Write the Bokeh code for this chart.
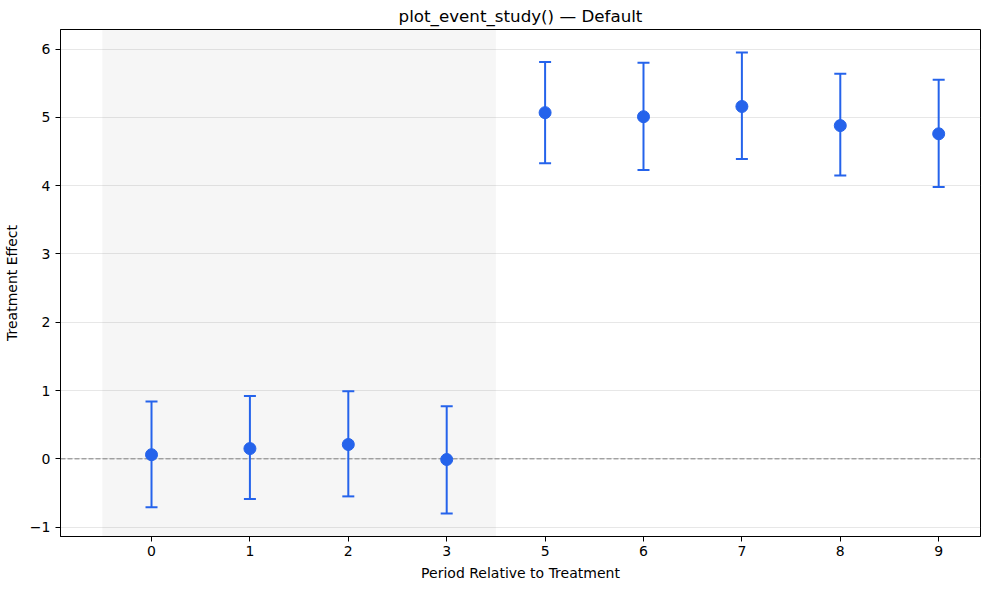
from bokeh.plotting import figure
from bokeh.models import (ColumnDataSource, Range1d, FixedTicker, Whisker, TeeHead,
                          BoxAnnotation, Span)
from bokeh.embed import file_html
from bokeh.resources import INLINE

# ---- data ----
periods = [0, 1, 2, 3, 5, 6, 7, 8, 9]
estimates = [0.06, 0.15, 0.21, -0.01, 5.07, 5.01, 5.16, 4.88, 4.76]
ci_lower = [-0.71, -0.59, -0.55, -0.80, 4.33, 4.23, 4.39, 4.15, 3.98]
ci_upper = [0.84, 0.92, 0.99, 0.77, 5.81, 5.80, 5.95, 5.64, 5.55]
pre_periods = [0, 1, 2, 3]
y_ticks = [-1, 0, 1, 2, 3, 4, 5, 6]

BLUE = "#2563eb"
FONT = "DejaVu Sans"

pos = list(range(len(periods)))
src = ColumnDataSource(dict(x=pos, y=estimates, lo=ci_lower, hi=ci_upper))

n_pre = len(pre_periods)
x_start = -0.5 - 0.05 * (len(periods) - 1 + 0.5)
x_end = (len(periods) - 1) + 0.05 * (len(periods) - 1 + 0.5)
ymin, ymax = min(ci_lower), max(ci_upper)
yr = ymax - ymin

p = figure(frame_width=920, frame_height=507,
           x_range=Range1d(x_start, x_end),
           y_range=Range1d(ymin - 0.05 * yr, ymax + 0.05 * yr),
           output_backend="svg", toolbar_location=None,
           min_border_left=54, min_border_right=1, min_border_top=25, min_border_bottom=45,
           background_fill_color="white", border_fill_color="white")

p.title.text = "plot_event_study() — Default"
p.title.align = "center"
p.title.text_font = FONT
p.title.text_font_size = "16.7px"
p.title.text_font_style = "normal"
p.title.text_color = "black"
p.title.standoff = 7

# grid
p.xgrid.grid_line_color = None
p.ygrid.grid_line_color = "#b0b0b0"
p.ygrid.grid_line_alpha = 0.3
p.ygrid.grid_line_width = 1

# shaded pre-treatment region
p.add_layout(BoxAnnotation(left=-0.5, right=n_pre - 0.5, fill_color="gray",
                           fill_alpha=0.07, line_color=None, level="underlay"))
# zero line
p.add_layout(Span(location=0, dimension="width", line_color="#7f7f7f", line_alpha=1,
                  line_dash="5 2", line_width=1, level="underlay"))

# error bars
p.add_layout(Whisker(source=src, base="x", lower="lo", upper="hi", dimension="height",
                     line_color=BLUE, line_width=2,
                     upper_head=TeeHead(size=12, line_color=BLUE, line_width=2),
                     lower_head=TeeHead(size=12, line_color=BLUE, line_width=2)))
p.scatter("x", "y", source=src, size=12, fill_color=BLUE, line_color=BLUE)

# axes
p.xaxis.ticker = FixedTicker(ticks=pos)
p.xaxis.major_label_overrides = {i: str(v) for i, v in zip(pos, periods)}
p.yaxis.ticker = FixedTicker(ticks=y_ticks)
p.yaxis.major_label_overrides = {t: (str(t).replace("-", "\u2212")) for t in y_ticks}
p.xaxis.axis_label = "Period Relative to Treatment"
p.yaxis.axis_label = "Treatment Effect"
for ax in (p.xaxis, p.yaxis):
    ax.axis_label_text_font = FONT
    ax.axis_label_text_font_size = "14px"
    ax.axis_label_text_font_style = "normal"
    ax.axis_label_text_color = "black"
    ax.major_label_text_font = FONT
    ax.major_label_text_font_size = "14px"
    ax.major_label_text_color = "black"
    ax.minor_tick_line_color = None
    ax.major_tick_in = 0
    ax.major_tick_out = 5
    ax.major_tick_line_color = "black"
    ax.axis_line_color = "black"
    ax.major_label_standoff = 4
    ax.axis_label_standoff = 6
p.yaxis.major_label_standoff = 5
p.yaxis.axis_label_standoff = 7
p.outline_line_color = "black"
p.outline_line_alpha = 1
p.outline_line_width = 1

open("out.html", "w").write(file_html(p, INLINE))
